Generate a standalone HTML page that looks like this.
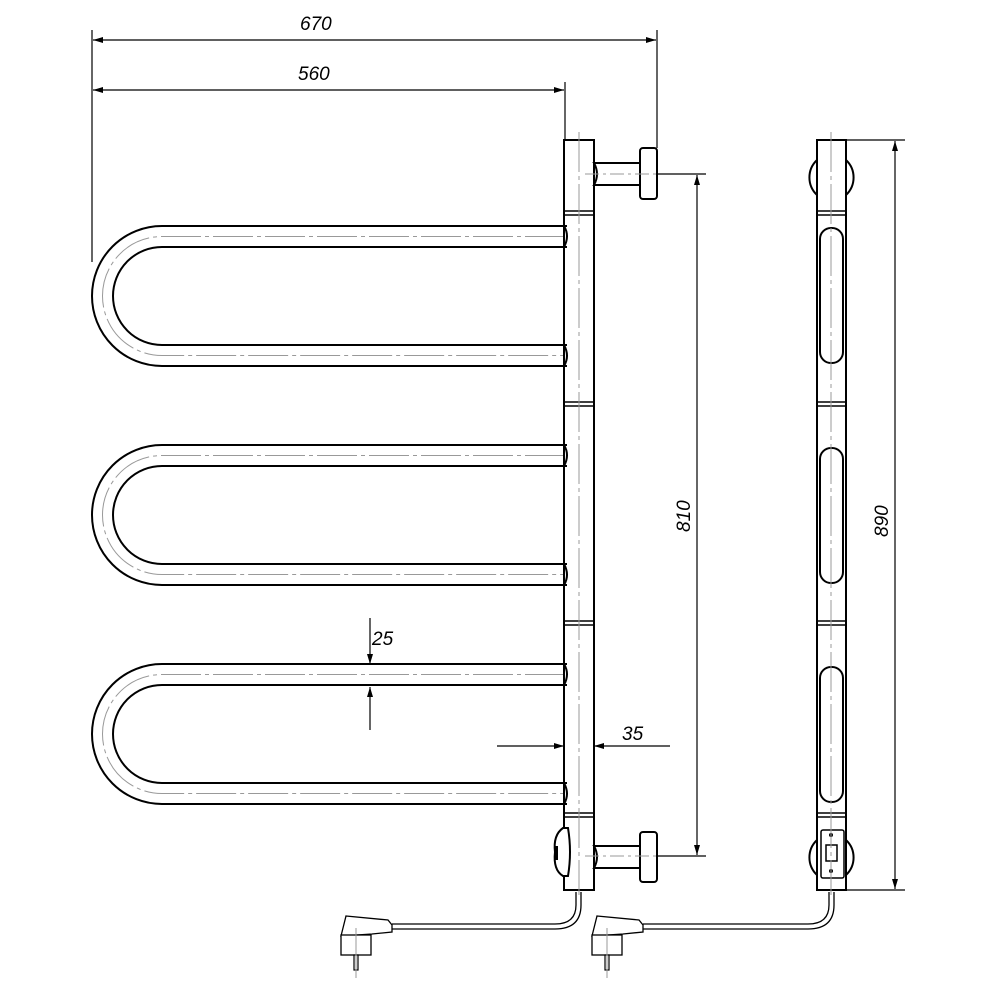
<!DOCTYPE html>
<html><head><meta charset="utf-8"><style>
html,body{margin:0;padding:0;background:#fff;}
svg{display:block;}
text{font-family:"Liberation Sans",sans-serif;font-style:italic;font-size:19px;fill:#000;}
</style></head><body>
<svg width="1000" height="1000" viewBox="0 0 1000 1000" xmlns="http://www.w3.org/2000/svg">
<defs>
<marker id="a" viewBox="0 0 10 6" refX="10" refY="3" markerWidth="10" markerHeight="6" orient="auto-start-reverse" markerUnits="userSpaceOnUse"><path d="M0,0 L10,3 L0,6 Z" fill="#000"/></marker>
<g id="loop">
  <path d="M567,0 L162,0 A70,70 0 0 0 162,140 L567,140" fill="none" stroke="#000" stroke-width="2"/>
  <path d="M567,21 L162,21 A49,49 0 0 0 162,119 L567,119" fill="none" stroke="#000" stroke-width="2"/>
  <path d="M565,10.5 L162,10.5 A59.5,59.5 0 0 0 162,129.5 L565,129.5" fill="none" stroke="#999" stroke-width="1" stroke-dasharray="40,4,4,4"/>
  <path d="M564,0 Q570,10 564,21 M564,119 Q570,130 564,140" fill="none" stroke="#000" stroke-width="2"/>
</g>
<g id="slot"><rect x="820" y="0" width="23" height="135" rx="11" fill="none" stroke="#000" stroke-width="2"/></g>
<g id="plug">
  <path d="M346,916 L388,920 L392,925 L392,932 L372,934 L341,936 Z" fill="#fff" stroke="#000" stroke-width="1.3"/>
  <rect x="341" y="935" width="30" height="20" fill="#fff" stroke="#000" stroke-width="1.3"/>
  <rect x="354" y="955" width="4" height="15" fill="#fff" stroke="#000" stroke-width="1.2"/>
  <line x1="356" y1="928" x2="356" y2="978" stroke="#999" stroke-width="1"/>
</g>
</defs>

<g stroke="#000" stroke-width="1.2">
<line x1="92" y1="30" x2="92" y2="262"/>
<line x1="657" y1="30" x2="657" y2="148"/>
<line x1="565" y1="82" x2="565" y2="140"/>
<line x1="93" y1="40" x2="656" y2="40" marker-start="url(#a)" marker-end="url(#a)"/>
<line x1="93" y1="90" x2="564" y2="90" marker-start="url(#a)" marker-end="url(#a)"/>
<line x1="620" y1="174" x2="706" y2="174"/>
<line x1="620" y1="856" x2="706" y2="856"/>
<line x1="697" y1="175" x2="697" y2="855" marker-start="url(#a)" marker-end="url(#a)"/>
<line x1="846" y1="140" x2="905" y2="140"/>
<line x1="846" y1="890" x2="905" y2="890"/>
<line x1="895" y1="141" x2="895" y2="889" marker-start="url(#a)" marker-end="url(#a)"/>
<line x1="370" y1="618" x2="370" y2="664" marker-end="url(#a)"/>
<line x1="370" y1="730" x2="370" y2="687" marker-end="url(#a)"/>
<line x1="497" y1="746" x2="564" y2="746" marker-end="url(#a)"/>
<line x1="670" y1="746" x2="594" y2="746" marker-end="url(#a)"/>
</g>
<text x="300" y="30">670</text>
<text x="298" y="80">560</text>
<text x="372" y="645">25</text>
<text x="622" y="740">35</text>
<text transform="translate(690,532) rotate(-90)">810</text>
<text transform="translate(888,537) rotate(-90)">890</text>

<use href="#loop" y="226"/>
<use href="#loop" y="445"/>
<use href="#loop" y="664"/>

<rect x="564" y="140" width="30" height="750" fill="none" stroke="#000" stroke-width="2"/>
<g stroke="#000" stroke-width="1.5">
<line x1="564" y1="211" x2="594" y2="211"/><line x1="564" y1="215" x2="594" y2="215"/>
<line x1="564" y1="402" x2="594" y2="402"/><line x1="564" y1="406" x2="594" y2="406"/>
<line x1="564" y1="621" x2="594" y2="621"/><line x1="564" y1="625" x2="594" y2="625"/>
<line x1="564" y1="813" x2="594" y2="813"/><line x1="564" y1="817" x2="594" y2="817"/>
</g>
<line x1="579" y1="132" x2="579" y2="895" stroke="#999" stroke-width="1" stroke-dasharray="40,4,4,4"/>
<g fill="#fff" stroke="#000" stroke-width="2">
<path d="M594,163 L640,163 L640,185 L594,185 Q600,174 594,163 Z"/>
<rect x="640" y="148" width="17" height="51" rx="3"/>
<path d="M594,846 L640,846 L640,868 L594,868 Q600,857 594,846 Z"/>
<rect x="640" y="832" width="17" height="50" rx="3"/>
<path d="M563,828 Q553,835 555,852 Q553,870 563,876 L568,876 Q572,852 568,828 Z"/>
</g>
<rect x="555" y="846" width="3" height="14" fill="#000"/>
<line x1="585" y1="174" x2="660" y2="174" stroke="#999" stroke-dasharray="14,4,3,4"/>
<line x1="585" y1="856" x2="660" y2="856" stroke="#999" stroke-dasharray="14,4,3,4"/>

<g fill="none" stroke="#000" stroke-width="2">
<path d="M817,160 A24,24 0 0 0 817,195"/>
<path d="M846,160 A24,24 0 0 1 846,195"/>
<path d="M817,840 A24,24 0 0 0 817,875"/>
<path d="M846,840 A24,24 0 0 1 846,875"/>
<rect x="817" y="140" width="29" height="750"/>
<use href="#slot" y="228"/>
<use href="#slot" y="448"/>
<use href="#slot" y="667"/>
<rect x="821" y="830" width="23" height="48" rx="2" stroke-width="1.5"/>
<rect x="826" y="845" width="11" height="16" stroke-width="1.5"/>
</g>
<g stroke="#000" stroke-width="1.5">
<line x1="817" y1="211" x2="846" y2="211"/><line x1="817" y1="215" x2="846" y2="215"/>
<line x1="817" y1="402" x2="846" y2="402"/><line x1="817" y1="406" x2="846" y2="406"/>
<line x1="817" y1="621" x2="846" y2="621"/><line x1="817" y1="625" x2="846" y2="625"/>
<line x1="817" y1="813" x2="846" y2="813"/><line x1="817" y1="817" x2="846" y2="817"/>
</g>
<circle cx="831" cy="835" r="2" fill="#000"/><circle cx="831" cy="871" r="2" fill="#000"/>
<line x1="831" y1="132" x2="831" y2="895" stroke="#999" stroke-width="1" stroke-dasharray="40,4,4,4"/>

<g fill="none" stroke="#000" stroke-width="1.3">
<path d="M576,892 L576,905 Q576,924 555,924 L392,924"/>
<path d="M581,892 L581,905 Q581,929 555,929 L392,929"/>
<path d="M829,892 L829,905 Q829,924 808,924 L643,924"/>
<path d="M834,892 L834,905 Q834,929 808,929 L643,929"/>
</g>
<use href="#plug"/>
<use href="#plug" x="251"/>
</svg>
</body></html>
